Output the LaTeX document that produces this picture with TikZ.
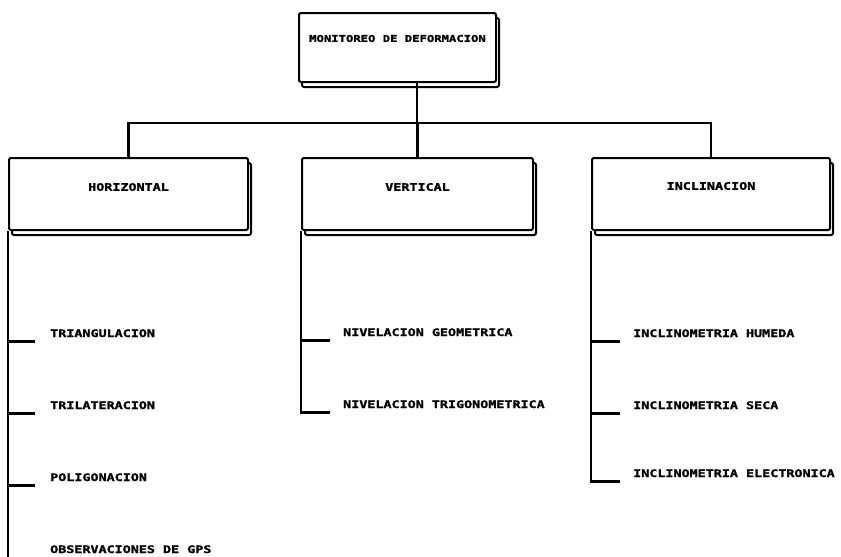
\documentclass[tikz,border=0pt]{standalone}
\usepackage{fontspec}
\newfontfamily\plotter[FakeStretch=1.3,FakeBold=1.6]{DejaVu Sans Mono}
\usetikzlibrary{shadows,positioning}

\begin{document}
\begin{tikzpicture}[x=1pt,y=-1pt]
        \tikzstyle{plot}=[font=\plotter\bfseries\fontsize{10.3}{12}\selectfont]
        \tikzstyle{box}=[rectangle, draw=black, line width=2pt, fill=white, rounded corners=2pt,
          drop shadow={shadow xshift=3pt, shadow yshift=-5pt, draw=black, fill=white, opacity=1, line width=2pt}]
        \tikzstyle{item}=[plot, anchor=base west, inner sep=0pt]
        \tikzstyle{connect}=[line width=2.2pt]
        \useasboundingbox (0,0) rectangle (841,557);
        \coordinate (bus) at (0,123);
        \coordinate (bottom) at (0,557);
        % boxes
        \node[box, minimum width=197pt, minimum height=69pt] (mon) at (397.5,47.5)
          [label={[plot,font=\plotter\bfseries\fontsize{9.4}{11}\selectfont,yshift=9pt]center:MONITOREO DE DEFORMACION}] {};
        \node[box, minimum width=239pt, minimum height=72pt] (hor) at (128.5,194)
          [label={[plot,yshift=7pt]center:HORIZONTAL}] {};
        \node[box, minimum width=231pt, minimum height=72pt] (ver) at (417.5,194)
          [label={[plot,yshift=7pt]center:VERTICAL}] {};
        \node[box, minimum width=238pt, minimum height=72pt] (inc) at (711,194)
          [label={[plot,yshift=8pt]center:INCLINACION}] {};
        % items
        \node[item] (tri) at (50,337) {TRIANGULACION};
        \node[item, below=72pt of tri.base west, anchor=base west] (trl) {TRILATERACION};
        \node[item, below=72pt of trl.base west, anchor=base west] (pol) {POLIGONACION};
        \node[item, below=72pt of pol.base west, anchor=base west] (gps) {OBSERVACIONES DE GPS};
        \node[item] (geo) at (343,336) {NIVELACION GEOMETRICA};
        \node[item, below=72pt of geo.base west, anchor=base west] (trg) {NIVELACION TRIGONOMETRICA};
        \node[item] (hum) at (633,337) {INCLINOMETRIA HUMEDA};
        \node[item, below=72pt of hum.base west, anchor=base west] (sec) {INCLINOMETRIA SECA};
        \node[item, below=68pt of sec.base west, anchor=base west] (ele) {INCLINOMETRIA ELECTRONICA};
        % connectors
        \draw[connect] (hor.north) |- (bus -| inc.north) -- (inc.north);
        \draw[connect] (ver.north) -- (ver.north |- bus);
        \draw[connect] ([xshift=19.5pt]mon.south) -- ([xshift=19.5pt]mon.south |- bus);
        \draw[connect] (hor.south west) -- (hor.south west |- bottom);
        \draw[connect] ([xshift=-15pt,yshift=-4.5pt]tri.base west) -| (hor.south west);
        \draw[connect] ([xshift=-15pt,yshift=-4.5pt]trl.base west) -| (hor.south west);
        \draw[connect] ([xshift=-15pt,yshift=-4.5pt]pol.base west) -| (hor.south west);
        \draw[connect] ([xshift=-13pt,yshift=-4.5pt]geo.base west) -| (ver.south west);
        \draw[connect] ([xshift=-13pt,yshift=-4.5pt]trg.base west) -| (ver.south west);
        \draw[connect] ([xshift=-13pt,yshift=-4.5pt]hum.base west) -| (inc.south west);
        \draw[connect] ([xshift=-13pt,yshift=-4.5pt]sec.base west) -| (inc.south west);
        \draw[connect] ([xshift=-13pt,yshift=-4.5pt]ele.base west) -| (inc.south west);
\end{tikzpicture}
\end{document}
